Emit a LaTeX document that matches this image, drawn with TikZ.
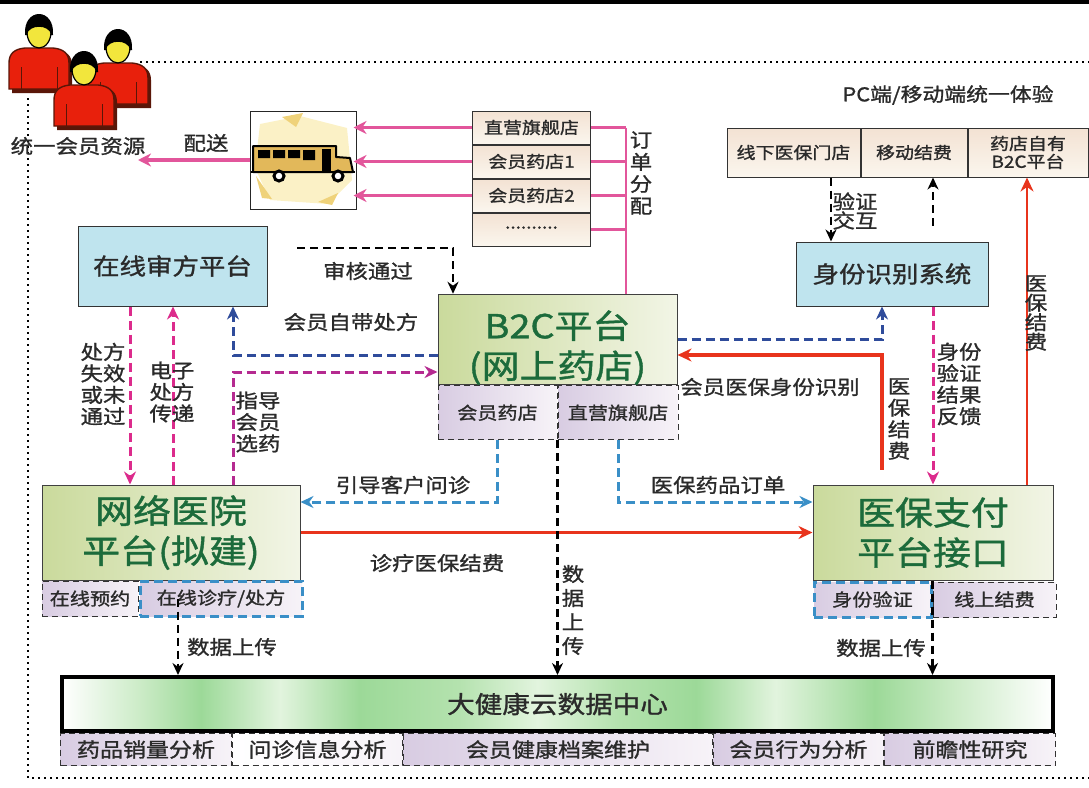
\documentclass[tikz,border=0pt]{standalone}
\usepackage{fontspec}
\setmainfont[FakeStretch=1.15,FakeBold=1.2]{Noto Sans CJK SC}
\usetikzlibrary{arrows.meta,positioning}

\definecolor{titlegreen}{HTML}{1C6B3B}
\definecolor{oliveA}{HTML}{CADA9C}
\definecolor{oliveB}{HTML}{F2F5E6}
\definecolor{skybox}{HTML}{BFE4EE}
\definecolor{lilacA}{HTML}{D8CCE2}
\definecolor{lilacB}{HTML}{F7F3F8}
\definecolor{shopA}{HTML}{F3E2D3}
\definecolor{shopB}{HTML}{FBF6EE}
\definecolor{rosepink}{HTML}{E2569B}
\definecolor{deeppink}{HTML}{DC2B8C}
\definecolor{guideviolet}{HTML}{B52A90}
\definecolor{navydash}{HTML}{2F4C9B}
\definecolor{skydash}{HTML}{3A8FC7}
\definecolor{feered}{HTML}{E8341C}
\definecolor{labelgray}{HTML}{2A2A2A}
\definecolor{memred}{HTML}{E8200C}
\definecolor{memshade}{HTML}{5A1608}
\definecolor{memface}{HTML}{F2E63C}
\definecolor{busgold}{HTML}{E2B85A}
\definecolor{buspale}{HTML}{FBF1C6}
\definecolor{busstar}{HTML}{EFD27A}
\definecolor{cbGreen}{HTML}{9CD998}
\definecolor{cbMid}{HTML}{B4E2AE}
\definecolor{cbSoft}{HTML}{CBEBC6}
\definecolor{cbPale}{HTML}{E2F4DE}

% green band of the data centre, stops kept inside 25bp..75bp
\pgfdeclarehorizontalshading{cloudband}{100bp}{color(0bp)=(white); color(25bp)=(white);
  color(29bp)=(cbSoft); color(32bp)=(cbGreen); color(36bp)=(cbPale); color(40bp)=(cbGreen);
  color(45bp)=(cbMid); color(49bp)=(cbPale); color(53bp)=(cbMid); color(57bp)=(cbGreen);
  color(61bp)=(cbPale); color(66bp)=(cbGreen); color(70bp)=(cbSoft); color(75bp)=(white);
  color(100bp)=(white)}

\tikzset{
  every node/.style={inner sep=0pt, text=labelgray},
  platform/.style={draw=black!75, line width=1pt, left color=oliveA, right color=oliveB,
    align=center, text=titlegreen, font=\fontsize{33}{40}\selectfont},
  sysbox/.style={draw=black!80, line width=1pt, fill=skybox, font=\fontsize{23}{26}\selectfont},
  subbox/.style={draw=black!80, line width=1pt, dash pattern=on 6pt off 4pt,
    left color=lilacA, right color=lilacB, font=\fontsize{17.5}{20}\selectfont},
  bluesub/.style={subbox, draw=skydash, line width=3pt, dash pattern=on 9pt off 5pt},
  shopbox/.style={draw=black!80, line width=1pt, top color=shopA, bottom color=shopB,
    minimum width=118pt, minimum height=33pt, font=\fontsize{16.5}{19}\selectfont},
  pcbox/.style={draw=black!80, line width=1pt, top color=shopA, bottom color=shopB,
    minimum height=49pt, align=center, font=\fontsize{16.5}{18}\selectfont},
  lbl/.style={font=\fontsize{19.5}{21.5}\selectfont, align=center},
  frameline/.style={black, line width=1.5pt, dash pattern=on 1.5pt off 4.5pt},
  feed/.style={rosepink, line width=3.5pt, -{Stealth[length=13pt,width=13pt]}},
  rxflow/.style={deeppink, line width=3pt, dash pattern=on 9pt off 5pt, -{Stealth[length=13pt,width=12pt]}},
  navyflow/.style={navydash, line width=3pt, dash pattern=on 9pt off 5pt, -{Stealth[length=13pt,width=12pt]}},
  skyflow/.style={skydash, line width=3pt, dash pattern=on 9pt off 5pt, -{Stealth[length=13pt,width=12pt]}},
  feeflow/.style={feered, line width=3pt, -{Stealth[length=14pt,width=13pt]}},
  upload/.style={black, line width=2.2pt, dash pattern=on 8pt off 5pt, -{Stealth[length=12pt,width=11pt]}},
  person/.pic={
    \fill[memshade] (-27,82) -- (-27,54) .. controls (-27,44) and (-21,40) .. (-11,39) -- (17,39)
      .. controls (27,40) and (33,44) .. (33,54) -- (33,82) -- cycle;
    \draw[fill=memred, draw=memshade, line width=1.4pt] (-30,78) -- (-30,52) .. controls (-30,42) and (-24,38) .. (-14,37)
      -- (14,37) .. controls (24,38) and (30,42) .. (30,52) -- (30,78) -- cycle;
    \draw[memshade, line width=1pt] (-18,56) -- (-18,78) (18,56) -- (18,78);
    \draw[fill=memface, draw=black, line width=1.2pt] (0,21) ellipse [x radius=12, y radius=16];
    \fill[black] (-14,24) .. controls (-16,-4) and (16,-4) .. (14,24) -- (12,24)
      .. controls (11,13) and (-11,13) .. (-12,24) -- cycle;
  }
}

\begin{document}
\begin{tikzpicture}[x=1pt,y=-1pt]
  \useasboundingbox (0,0) rectangle (1089,787);
  % top rule and dotted frame
  \fill[black] (0,0) rectangle (1089,4);
  \draw[frameline] (140,62) -- (1089,62);
  \draw[frameline] (28,98) -- (28,778) -- (1089,778);

  % members
  \pic at (39,11) {person};
  \pic at (118,26) {person};
  \pic at (84,48) {person};
  \node[lbl] (members) at (78,146) {统一会员资源};
  \coordinate (drop) at (138,161);

  % delivery bus
  \node[draw=black!85, line width=1pt, minimum width=106pt, minimum height=98pt] (bus) at (303,160) {};
  \fill[buspale] (260,124) -- (300,116) -- (347,128) -- (352,180) -- (328,204) -- (270,200) -- (255,168) -- cycle;
  \fill[busstar] (282,117) -- (303,113) -- (296,127) -- cycle;
  \fill[busstar] (256,176) -- (272,199) -- (262,198) -- cycle;
  \fill[busstar] (318,202) -- (338,193) -- (332,205) -- cycle;
  \draw[fill=busgold, line width=2pt, line join=round] (253,146) -- (336,146) -- (336,157) -- (350,158) -- (353,172) -- (253,172) -- cycle;
  \fill[black] (258,150) rectangle (270,158) (273,150) rectangle (285,158) (288,150) rectangle (300,158) (303,150) rectangle (315,160);
  \fill[black] (322,149) rectangle (331,171);
  \draw[line width=2.5pt] (251,172) -- (355,172);
  \draw[fill=white, line width=3pt] (279,176) circle [radius=5] (338,176) circle [radius=5];

  % shops
  \node[shopbox] (s1) at (531.5,127.5) {直营旗舰店};
  \node[shopbox, below=0pt of s1] (s2) {会员药店1};
  \node[shopbox, below=0pt of s2] (s3) {会员药店2};
  \node[shopbox, below=0pt of s3] (s4) {\raisebox{4pt}{..........}};

  % platforms
  \node[sysbox, minimum width=189pt, minimum height=80pt] (audit) at (172.5,266) {在线审方平台};
  \node[platform, minimum width=239pt, minimum height=87pt] (b2c) at (557.5,339.5) {\rule{0pt}{44pt}B2C平台\\(网上药店)};
  \node[subbox, minimum width=119pt, minimum height=54pt, below right=0pt and 0pt of b2c.south west] (memshop) {会员药店};
  \node[subbox, minimum width=120pt, minimum height=54pt, right=0pt of memshop] (flagship) {直营旗舰店};

  \node[platform, minimum width=258pt, minimum height=95pt] (hosp) at (171,532.5) {网络医院\\平台(拟建)};
  \node[subbox, minimum width=96pt, minimum height=35pt, below right=0pt and 0pt of hosp.south west] (booking) {在线预约};
  \node[bluesub, minimum width=162pt, minimum height=35pt, right=0pt of booking] (consult) {在线诊疗/处方};

  \node[platform, minimum width=240pt, minimum height=95pt] (pay) at (933,532.5) {医保支付\\平台接口};
  \node[bluesub, minimum width=117pt, minimum height=35pt, below right=0pt and 0pt of pay.south west] (verify) {身份验证};
  \node[subbox, minimum width=123pt, minimum height=35pt, right=0pt of verify] (settle) {线上结费};

  \node[sysbox, minimum width=192pt, minimum height=64pt] (ident) at (892,274) {身份识别系统};
  \node[pcbox, minimum width=133pt] (offline) at (793.5,152.5) {线下医保门店};
  \node[pcbox, minimum width=106pt, right=0pt of offline] (mobile) {移动结费};
  \node[pcbox, minimum width=120pt, right=0pt of mobile] (ownb2c) {药店自有\\B2C平台};
  \node[lbl, font=\fontsize{19}{21}\selectfont] (pcnote) at (948,95) {PC端/移动端统一体验};

  % data centre
  \node[draw=black, line width=4pt, shade, shading=cloudband, minimum width=991pt, minimum height=54pt,
    font=\fontsize{24}{26}\selectfont] (cloud) at (557.5,704) {大健康云数据中心};
  \begin{scope}[every node/.append style={subbox, font=\fontsize{20}{22}\selectfont, minimum height=32pt}]
    \node[minimum width=171pt, below right=0pt and 0pt of cloud.south west] (sales) {药品销量分析};
    \node[minimum width=170pt, right=0pt of sales, left color=white] (inquiry) {问诊信息分析};
    \node[minimum width=309pt, right=0pt of inquiry] (records) {会员健康档案维护};
    \node[minimum width=170pt, right=0pt of records] (habits) {会员行为分析};
    \node[minimum width=171pt, right=0pt of habits] (research) {前瞻性研究};
  \end{scope}

  % lanes
  \coordinate (xorder) at (626,0);
  \coordinate (xreject) at (130,0);
  \coordinate (xrx) at (173,0);
  \coordinate (xguide) at (233,0);
  \coordinate (xpass) at (453,0);
  \coordinate (xhosp) at (178,0);
  \coordinate (xfee) at (882,0);
  \coordinate (xback) at (933,0);
  \coordinate (xcheck) at (831,0);
  \coordinate (xown) at (1027,0);
  \coordinate (yown) at (0,355);
  \coordinate (yguide) at (0,372);
  \coordinate (yask) at (0,502);
  \coordinate (yfee) at (0,355);
  \coordinate (passfrom) at (297,248);

  % delivery
  \draw[feed, shorten >=-3pt] (s1.west) -- (s1.west -| bus.east);
  \draw[feed, shorten >=-3pt] (s2.west) -- (s2.west -| bus.east);
  \draw[feed, shorten >=-3pt] (s3.west) -- (s3.west -| bus.east);
  \draw[feed] (bus.west) -- (bus.west -| drop);
  \node[lbl] at (206,143) {配送};

  % order split
  \begin{scope}[rosepink]
    \draw[line width=2.5pt] (s1.east -| xorder) -- (b2c.north -| xorder);
    \draw[line width=3.5pt] (s1.east) -- (s1.east -| xorder);
    \draw[line width=3.5pt] (s2.east) -- (s2.east -| xorder);
    \draw[line width=3.5pt] (s3.east) -- (s3.east -| xorder);
    \draw[line width=2.5pt] (s4.east) -- (s4.east -| xorder);
  \end{scope}
  \node[lbl, font=\fontsize{19.5}{22}\selectfont] at (641,173) {订\\单\\分\\配};

  % prescriptions
  \draw[upload] (passfrom) -| (b2c.north -| xpass);
  \node[lbl] at (368,271) {审核通过};
  \node[lbl] at (351,322) {会员自带处方};
  \draw[rxflow] (audit.south -| xreject) -- (hosp.north -| xreject);
  \draw[rxflow] (hosp.north -| xrx) -- (audit.south -| xrx);
  \draw[navyflow] (b2c.west |- yown) -| (audit.south -| xguide);
  \draw[rxflow, guideviolet] (hosp.north -| xguide) |- (b2c.west |- yguide);
  \node[lbl] at (103,384) {处方\\失效\\或未\\通过};
  \node[lbl] at (172,392) {电子\\处方\\传递};
  \node[lbl] at (258,422) {指导\\会员\\选药};

  % shop to hospital and payment
  \draw[skyflow] (memshop.south) |- (hosp.east |- yask);
  \draw[skyflow] (flagship.south) |- (pay.west |- yask);
  \node[lbl] at (403,485) {引导客户问诊};
  \node[lbl] at (718,485) {医保药品订单};
  \draw[feeflow] (hosp.east) -- (pay.west);
  \node[lbl] at (437,563) {诊疗医保结费};

  % identity and fees
  \draw[navyflow] (b2c.east) -| (ident.south -| xfee);
  \draw[feeflow, line width=4pt, shorten <=15pt] (pay.north -| xfee) |- (b2c.east |- yfee);
  \node[lbl] at (770,387) {会员医保身份识别};
  \node[lbl] at (899,419) {医\\保\\结\\费};
  \draw[rxflow] (ident.south -| xback) -- (pay.north -| xback);
  \node[lbl] at (959,384) {身份\\验证\\结果\\反馈};
  \draw[upload] (offline.south -| xcheck) -- (ident.north -| xcheck);
  \node[lbl, font=\fontsize{19.5}{19}\selectfont] at (855,211) {验证\\交互};
  \draw[upload, shorten <=16pt] (ident.north -| xback) -- (mobile.south -| xback);
  \draw[feeflow, line width=2.5pt] (pay.north -| xown) -- (ownb2c.south -| xown);
  \node[lbl, font=\fontsize{19.5}{19.5}\selectfont] at (1036,313) {医\\保\\结\\费};

  % data upload
  \draw[upload] (memshop.south east) -- (memshop.south east |- cloud.north);
  \node[lbl, font=\fontsize{19.5}{24}\selectfont] at (573,610) {数\\据\\上\\传};
  \draw[upload] (consult.center -| xhosp) -- (cloud.north -| xhosp);
  \node[lbl] at (232,647) {数据上传};
  \draw[upload] (verify.north east) -- (verify.north east |- cloud.north);
  \node[lbl] at (881,648) {数据上传};
\end{tikzpicture}
\end{document}
